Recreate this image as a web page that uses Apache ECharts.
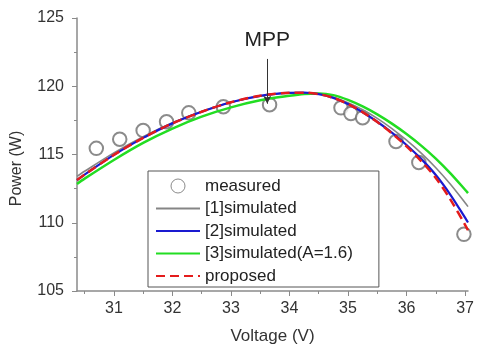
<!DOCTYPE html>
<html>
<head>
<meta charset="utf-8">
<script src="https://cdn.jsdelivr.net/npm/echarts@6/dist/echarts.min.js"></script>
<style>
html,body{margin:0;padding:0;background:#fff;}
#chart{width:477px;height:350px;}
</style>
</head>
<body>
<div id="chart"></div>
<script>
// measured points
var measV = [30.7, 31.1, 31.5, 31.9, 32.28, 32.87, 33.66, 34.88, 35.05, 35.25, 35.82, 36.21, 36.98];
var measP = [115.45, 116.12, 116.76, 117.4, 118.05, 118.5, 118.65, 118.42, 118.0, 117.7, 115.95, 114.42, 109.15];

// curves, same voltage grid
var curveV = [30.37, 30.5, 31.0, 31.5, 32.0, 32.5, 33.0, 33.5, 34.0, 34.25, 34.5, 34.75, 35.0, 35.25, 35.5, 35.75, 36.0, 36.25, 36.5, 36.75, 37.0, 37.05];
var sim1P = [113.4, 113.77, 115.12, 116.3, 117.32, 118.15, 118.82, 119.28, 119.5, 119.52, 119.43, 119.2, 118.8, 118.28, 117.65, 116.9, 116.05, 115.1, 114.03, 112.82, 111.47, 111.18];
var sim2P = [113.13, 113.53, 114.97, 116.22, 117.28, 118.13, 118.83, 119.3, 119.52, 119.53, 119.42, 119.15, 118.7, 118.1, 117.4, 116.6, 115.7, 114.68, 113.5, 112.05, 110.37, 110.02];
var sim3P = [112.84, 113.23, 114.6, 115.85, 116.9, 117.77, 118.45, 118.97, 119.3, 119.43, 119.47, 119.35, 119.0, 118.52, 117.94, 117.26, 116.5, 115.65, 114.7, 113.62, 112.42, 112.17];
var propP = [113.13, 113.53, 114.97, 116.22, 117.28, 118.13, 118.83, 119.3, 119.52, 119.53, 119.42, 119.15, 118.7, 118.1, 117.38, 116.55, 115.6, 114.52, 113.28, 111.7, 109.85, 109.45];

// axis ticks
var xMajor = [31, 32, 33, 34, 35, 36, 37];
var xMinor = [30.5, 31.5, 32.5, 33.5, 34.5, 35.5, 36.5];

// MPP annotation
var mppV = 33.62;
var mppTop = 122.0;
var mppP = 118.72;

var names = ['measured', '[1]simulated', '[2]simulated', '[3]simulated(A=1.6)', 'proposed'];

function zipData(xs, ys) {
    var out = [];
    for (var i = 0; i < xs.length; i++) {
        out.push([xs[i], ys[i]]);
    }
    return out;
}

var chart = echarts.init(document.getElementById('chart'));

var axisColor = '#8a8a8a';
var font = '"Liberation Sans", Arial, sans-serif';

/* 图例: 线条项不要圆点 */
var legendData = [{
    name: names[0],
    icon: 'circle',
    itemStyle: { color: '#fff', borderColor: '#6e6e6e', borderWidth: 1 }
}];
for (var k = 1; k < names.length; k++) {
    legendData.push({ name: names[k], itemStyle: { opacity: 0 } });
}

var option = {
    animation: false,
    textStyle: { fontFamily: font },
    grid: [
        { left: 77, right: 9, top: 18, bottom: 59 },
        { left: 77, right: 9, top: 18, bottom: 59 }
    ],
    legend: {
        data: legendData,
        orient: 'vertical',
        left: 148,
        top: 171,
        padding: [6.5, 26, 2.5, 7],
        itemGap: 5.5,
        itemWidth: 44,
        itemHeight: 14,
        borderColor: '#555',
        borderWidth: 1,
        backgroundColor: '#fff',
        textStyle: { fontSize: 17, lineHeight: 17, color: '#222', fontFamily: font }
    },
    xAxis: [
        {
            type: 'value',
            gridIndex: 0,
            min: 30.37,
            max: 37.05,
            name: 'Voltage (V)',
            nameLocation: 'middle',
            nameGap: 37,
            nameTextStyle: { fontSize: 17, color: '#333' },
            axisLine: { show: true, lineStyle: { color: axisColor, width: 1.5 } },
            axisTick: { show: true, length: 5, customValues: xMajor, lineStyle: { color: axisColor } },
            axisLabel: { customValues: xMajor, fontSize: 16, color: '#333', margin: 10 },
            splitLine: { show: false }
        },
        {
            type: 'value',
            gridIndex: 1,
            min: 30.37,
            max: 37.05,
            axisLine: { show: false },
            axisTick: { show: true, length: 3, customValues: xMinor, lineStyle: { color: axisColor } },
            axisLabel: { show: false },
            splitLine: { show: false }
        }
    ],
    yAxis: [
        {
            type: 'value',
            gridIndex: 0,
            min: 105,
            max: 125,
            interval: 5,
            name: 'Power (W)',
            nameLocation: 'middle',
            nameGap: 52,
            nameTextStyle: { fontSize: 16, color: '#333', padding: [0, 28, 0, 0] },
            axisLine: { show: true, lineStyle: { color: axisColor, width: 1.5 } },
            axisTick: { show: true, length: 5, lineStyle: { color: axisColor } },
            minorTick: { show: true, splitNumber: 2, length: 3, lineStyle: { color: axisColor } },
            axisLabel: { fontSize: 16, color: '#333', margin: 13 },
            splitLine: { show: false }
        },
        {
            type: 'value',
            gridIndex: 1,
            min: 105,
            max: 125,
            show: false
        }
    ],
    series: [
        {
            name: names[0],
            type: 'scatter',
            data: zipData(measV, measP),
            symbol: 'emptyCircle',
            symbolSize: 13.5,
            itemStyle: { color: '#6e6e6e', borderColor: '#6e6e6e', borderWidth: 1 },
            markLine: {
                silent: true,
                symbol: ['none', 'arrow'],
                symbolSize: [6, 8],
                lineStyle: { color: '#333', width: 1, type: 'solid' },
                label: {
                    show: true,
                    position: 'start',
                    formatter: 'MPP',
                    fontSize: 21,
                    color: '#222',
                    distance: 8
                },
                data: [[{ coord: [mppV, mppTop] }, { coord: [mppV, mppP] }]]
            }
        },
        {
            name: names[1],
            type: 'line',
            data: zipData(curveV, sim1P),
            smooth: 0.3,
            symbol: 'none',
            lineStyle: { color: '#858585', width: 1.6 },
            itemStyle: { color: '#858585' }
        },
        {
            name: names[3],
            type: 'line',
            data: zipData(curveV, sim3P),
            smooth: 0.3,
            symbol: 'none',
            lineStyle: { color: '#22dd22', width: 2.5 },
            itemStyle: { color: '#22dd22' }
        },
        {
            name: names[2],
            type: 'line',
            data: zipData(curveV, sim2P),
            smooth: 0.3,
            symbol: 'none',
            lineStyle: { color: '#1a1ad0', width: 2.2 },
            itemStyle: { color: '#1a1ad0' }
        },
        {
            name: names[4],
            type: 'line',
            data: zipData(curveV, propP),
            smooth: 0.3,
            symbol: 'none',
            lineStyle: { color: '#e41c1c', width: 2.5, type: [9, 5] },
            itemStyle: { color: '#e41c1c' }
        }
    ]
};

chart.setOption(option);
</script>
</body>
</html>
